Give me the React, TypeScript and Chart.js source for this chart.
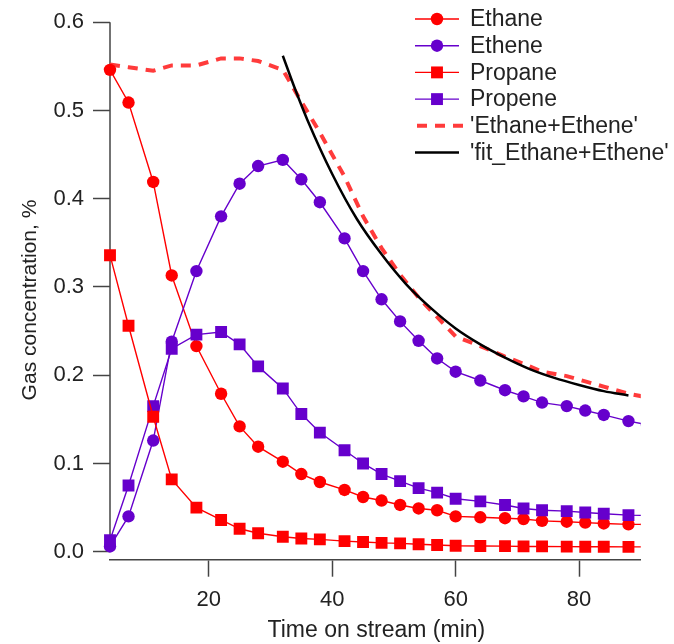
import React, { useEffect, useRef } from 'react';
import { Chart, registerables } from 'chart.js';

Chart.register(...registerables);

// ---- data ----
const times = [4, 7, 11, 14, 18, 22, 25, 28, 32, 35, 38, 42, 45, 48, 51, 54, 57, 60, 64, 68, 71, 74, 78, 81, 84, 88, 91];
const ethane = [0.546, 0.509, 0.419, 0.313, 0.233, 0.179, 0.142, 0.119, 0.102, 0.088, 0.079, 0.070, 0.062, 0.058, 0.053, 0.049, 0.047, 0.040, 0.039, 0.038, 0.037, 0.035, 0.034, 0.033, 0.032, 0.031, 0.031];
const ethene = [0.006, 0.040, 0.126, 0.238, 0.318, 0.380, 0.417, 0.437, 0.444, 0.422, 0.396, 0.355, 0.318, 0.286, 0.261, 0.239, 0.219, 0.204, 0.194, 0.183, 0.176, 0.169, 0.165, 0.160, 0.155, 0.148, 0.144];
const propane = [0.336, 0.256, 0.153, 0.082, 0.050, 0.036, 0.026, 0.021, 0.017, 0.015, 0.014, 0.012, 0.011, 0.010, 0.0095, 0.0085, 0.0076, 0.0068, 0.0065, 0.0063, 0.006, 0.006, 0.0058, 0.0057, 0.0056, 0.0055, 0.0055];
const propene = [0.013, 0.075, 0.165, 0.230, 0.246, 0.249, 0.235, 0.210, 0.185, 0.156, 0.135, 0.115, 0.100, 0.088, 0.080, 0.072, 0.067, 0.060, 0.057, 0.053, 0.049, 0.047, 0.046, 0.0445, 0.043, 0.0415, 0.041];
const fitTimes = [32, 34, 36, 40, 44, 48, 52, 56, 60, 64, 68, 72, 76, 80, 84, 88];
const fitValues = [0.562, 0.524, 0.489, 0.428, 0.377, 0.337, 0.303, 0.276, 0.253, 0.235, 0.220, 0.207, 0.197, 0.189, 0.182, 0.177];

const xTicks = [20, 40, 60, 80];
const yTicks = [0.0, 0.1, 0.2, 0.3, 0.4, 0.5, 0.6];
const legendOrder = ['Ethane', 'Ethene', 'Propane', 'Propene', "'Ethane+Ethene'", "'fit_Ethane+Ethene'"];

const xTitle = 'Time on stream (min)';
const yTitle = 'Gas concentration, %';

// ---- styles ----
const RED = '#FF0000';
const PURPLE = '#6600CC';
const DASH_RED = '#FF3B3B';
const AXIS = '#444444';
const TEXT = '#222222';
const FONT = "'Liberation Sans', Arial, sans-serif";

const W = 674;
const H = 644;

const pts = (xs: number[], ys: number[]) => xs.map((t, i) => ({ x: t, y: ys[i] }));

const clipOpt = { left: 14, top: 14, right: 0, bottom: 14 };

const overlay = {
  id: 'overlay',
  beforeDatasetsDraw(chart: any) {
    const { ctx, chartArea, scales } = chart;
    const y = scales.y;
    ctx.save();
    ctx.strokeStyle = AXIS;
    ctx.lineWidth = 1.5;
    ctx.beginPath();
    ctx.moveTo(chartArea.left, y.getPixelForValue(yTicks[yTicks.length - 1]));
    ctx.lineTo(chartArea.left, y.getPixelForValue(yTicks[0]));
    ctx.stroke();
    ctx.restore();
  },
  afterDraw(chart: any) {
    const { ctx, chartArea } = chart;
    ctx.save();
    ctx.fillStyle = TEXT;
    // x title
    ctx.font = `23px ${FONT}`;
    ctx.textAlign = 'center';
    ctx.textBaseline = 'middle';
    ctx.fillText(xTitle, (chartArea.left + chartArea.right) / 2 + 1, 631);
    // y title
    ctx.save();
    ctx.translate(30, 300);
    ctx.rotate(-Math.PI / 2);
    ctx.font = `21px ${FONT}`;
    ctx.fillText(yTitle, 0, 0);
    ctx.restore();

    // legend
    const x0 = 415, x1 = 459, xm = 437, xt = 470;
    let yy = 19;
    ctx.font = `23px ${FONT}`;
    ctx.textAlign = 'left';
    for (const label of legendOrder) {
      const ds = chart.data.datasets.find((d: any) => d.label === label);
      if (!ds) continue;
      ctx.save();
      ctx.strokeStyle = ds.borderColor;
      ctx.lineWidth = ds.borderWidth;
      ctx.setLineDash(ds.borderDash || []);
      ctx.beginPath();
      if (ds.borderDash) {
        ctx.moveTo(x0 + 2, yy);
        ctx.lineTo(x1 + 4, yy);
      } else {
        ctx.moveTo(x0, yy);
        ctx.lineTo(x1, yy);
      }
      ctx.stroke();
      ctx.setLineDash([]);
      if (ds.pointRadius > 0) {
        ctx.fillStyle = ds.pointBackgroundColor;
        if (ds.pointStyle === 'rect') {
          const s = ds.pointRadius * Math.SQRT1_2;
          ctx.fillRect(xm - s, yy - s, 2 * s, 2 * s);
        } else {
          ctx.beginPath();
          ctx.arc(xm, yy, ds.pointRadius, 0, Math.PI * 2);
          ctx.fill();
        }
      }
      ctx.restore();
      ctx.fillStyle = TEXT;
      ctx.fillText(label, xt, yy + 1);
      yy += 26.7;
    }
    ctx.restore();
  },
};

export default function App() {
  const ref = useRef<HTMLCanvasElement | null>(null);

  useEffect(() => {
    if (!ref.current) return;
    const sumValues = ethane.map((v, i) => v + ethene[i]);
    const series = (label: string, ys: number[], color: string, style: string, radius: number) => ({
      label,
      data: pts(times, ys),
      borderColor: color,
      backgroundColor: color,
      pointBackgroundColor: color,
      pointBorderColor: color,
      pointBorderWidth: 0,
      borderWidth: 1.4,
      pointStyle: style,
      pointRadius: radius,
      pointHoverRadius: radius,
      tension: 0,
      clip: clipOpt,
    });
    const chart = new Chart(ref.current, {
      type: 'line',
      data: {
        datasets: [
          {
            label: "'fit_Ethane+Ethene'",
            data: pts(fitTimes, fitValues),
            borderColor: '#000000',
            backgroundColor: '#000000',
            borderWidth: 2.5,
            pointRadius: 0,
            cubicInterpolationMode: 'monotone',
            clip: clipOpt,
          } as any,
          series('Propane', propane, RED, 'rect', 8.4),
          series('Propene', propene, PURPLE, 'rect', 8.4),
          series('Ethene', ethene, PURPLE, 'circle', 6.2),
          series('Ethane', ethane, RED, 'circle', 6.2),
          {
            label: "'Ethane+Ethene'",
            data: pts(times, sumValues),
            borderColor: DASH_RED,
            backgroundColor: DASH_RED,
            borderWidth: 4,
            borderDash: [10, 8],
            pointRadius: 0,
            tension: 0,
            clip: clipOpt,
          } as any,
        ],
      },
      options: {
        responsive: false,
        maintainAspectRatio: false,
        animation: false,
        devicePixelRatio: 1,
        layout: { padding: { top: 20.7, right: W - 640.8, bottom: 0, left: 0 } },
        plugins: { legend: { display: false }, tooltip: { enabled: false } },
        events: [],
        scales: {
          x: {
            type: 'linear',
            min: 4,
            max: 90,
            afterBuildTicks: (s: any) => { s.ticks = xTicks.map((v) => ({ value: v })); },
            afterFit: (s: any) => { s.height = H - 559.7; },
            grid: { display: true, drawOnChartArea: false, drawTicks: true, tickLength: 17, tickWidth: 1.5, tickColor: AXIS },
            border: { display: true, color: AXIS, width: 1.5 },
            ticks: { font: { family: FONT, size: 22 }, color: TEXT, padding: 10, maxRotation: 0, autoSkip: false, callback: (v: any) => String(v) },
          },
          y: {
            type: 'linear',
            min: -0.00904,
            max: 0.6,
            afterBuildTicks: (s: any) => { s.ticks = yTicks.map((v) => ({ value: v })); },
            afterFit: (s: any) => { s.width = 110; },
            grid: { display: true, drawOnChartArea: false, drawTicks: true, tickLength: 17, tickWidth: 1.5, tickColor: AXIS },
            border: { display: false },
            ticks: { font: { family: FONT, size: 22 }, color: TEXT, padding: 9, autoSkip: false, callback: (v: any) => Number(v).toFixed(1) },
          },
        },
      } as any,
      plugins: [overlay],
    });
    return () => chart.destroy();
  }, []);

  return (
    <div style={{ position: 'fixed', left: 0, top: 0, width: W, height: H, background: '#fff' }}>
      <canvas ref={ref} width={W} height={H} style={{ width: W, height: H, display: 'block' }} />
    </div>
  );
}
